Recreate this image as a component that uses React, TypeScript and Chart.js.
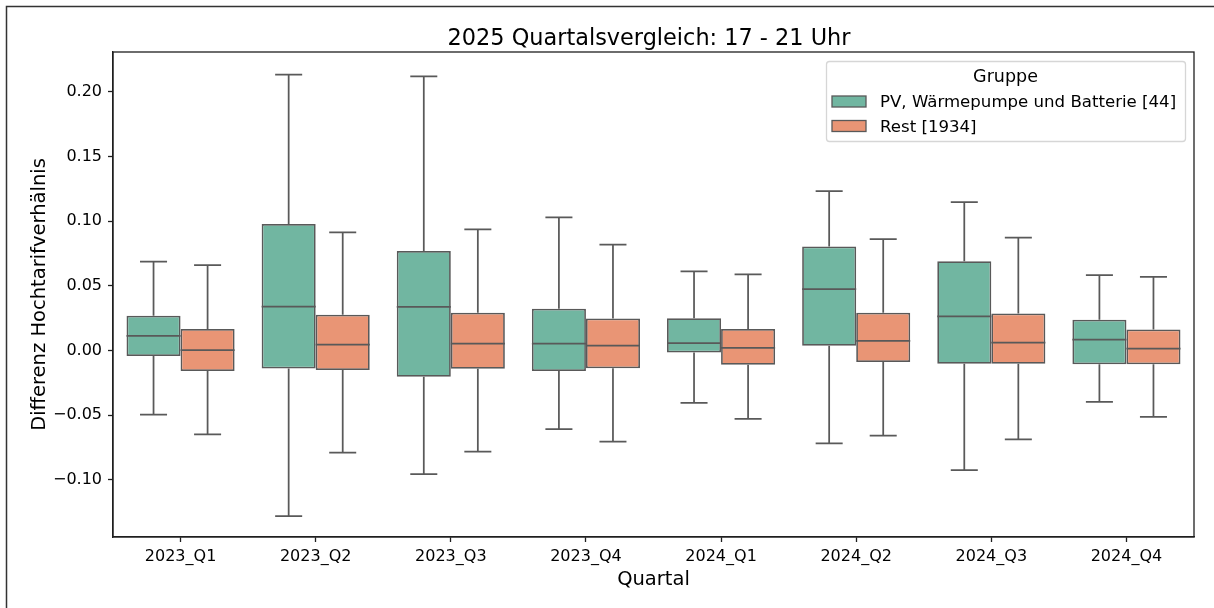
import React, { useEffect, useRef } from "react";
import { Chart, registerables } from "chart.js";

Chart.register(...registerables);

// ---- data ----
const quarters = ["2023_Q1", "2023_Q2", "2023_Q3", "2023_Q4", "2024_Q1", "2024_Q2", "2024_Q3", "2024_Q4"];
const groupLabels = ["PV, Wärmepumpe und Batterie [44]", "Rest [1934]"];

const pvLow = [-0.0497, -0.1281, -0.0956, -0.0608, -0.0406, -0.0719, -0.0925, -0.0399];
const pvQ1 = [-0.0043, -0.0141, -0.0203, -0.0159, -0.0017, 0.0035, -0.0104, -0.0107];
const pvMedian = [0.0112, 0.0339, 0.0337, 0.0053, 0.0056, 0.0473, 0.0262, 0.0084];
const pvQ3 = [0.0267, 0.0977, 0.0768, 0.0321, 0.0249, 0.0803, 0.069, 0.0236];
const pvHigh = [0.0687, 0.2132, 0.2119, 0.1028, 0.061, 0.1232, 0.1147, 0.0582];

const restLow = [-0.0649, -0.0791, -0.0783, -0.0706, -0.053, -0.0659, -0.0688, -0.0515];
const restQ1 = [-0.0159, -0.0151, -0.0143, -0.0138, -0.0112, -0.0089, -0.0104, -0.0107];
const restMedian = [0.0001, 0.0045, 0.0053, 0.0037, 0.0019, 0.0073, 0.006, 0.0014];
const restQ3 = [0.0166, 0.0275, 0.029, 0.0246, 0.0166, 0.029, 0.0285, 0.0161];
const restHigh = [0.0659, 0.0912, 0.0935, 0.0817, 0.0587, 0.0861, 0.0871, 0.0569];

const yTicks = [-0.1, -0.05, 0, 0.05, 0.1, 0.15, 0.2];

const titleText = "2025 Quartalsvergleich: 17 - 21 Uhr";
const xTitle = "Quartal";
const yTitle = "Differenz Hochtarifverhälnis";
const legendTitle = "Gruppe";

// ---- styles ----
const FONT = "'DejaVu Sans', 'Noto Sans', sans-serif";
const colors = ["#71b6a1", "#e99575"];
const lineColor = "#595959";
const axisColor = "#1f1f1f";

const groups = [
  { low: pvLow, q1: pvQ1, med: pvMedian, q3: pvQ3, high: pvHigh },
  { low: restLow, q1: restQ1, med: restMedian, q3: restQ3, high: restHigh },
];

const fmt = (v: number) => {
  const s = Math.abs(v).toFixed(2);
  return v < -1e-9 ? "\u2212" + s : s;
};

const boxPlugin = {
  id: "boxWhiskers",
  afterDatasetsDraw(chart: any) {
    const ctx = chart.ctx;
    const ys = chart.scales.y;
    ctx.save();
    ctx.strokeStyle = lineColor;
    ctx.lineWidth = 1.75;
    groups.forEach((g, di) => {
      const meta = chart.getDatasetMeta(di);
      meta.data.forEach((el: any, j: number) => {
        const x = el.x;
        const w = el.width;
        const yLow = ys.getPixelForValue(g.low[j]);
        const yQ1 = ys.getPixelForValue(g.q1[j]);
        const yQ3 = ys.getPixelForValue(g.q3[j]);
        const yHigh = ys.getPixelForValue(g.high[j]);
        const yMed = ys.getPixelForValue(g.med[j]);
        ctx.beginPath();
        ctx.moveTo(x, yQ3);
        ctx.lineTo(x, yHigh);
        ctx.moveTo(x, yQ1);
        ctx.lineTo(x, yLow);
        ctx.moveTo(x - w / 4, yHigh);
        ctx.lineTo(x + w / 4, yHigh);
        ctx.moveTo(x - w / 4, yLow);
        ctx.lineTo(x + w / 4, yLow);
        ctx.moveTo(x - w / 2, yMed);
        ctx.lineTo(x + w / 2, yMed);
        ctx.stroke();
      });
    });
    ctx.restore();
  },
};

const decorPlugin = {
  id: "decor",
  beforeDraw(chart: any) {
    const ctx = chart.ctx;
    ctx.save();
    ctx.fillStyle = "#ffffff";
    ctx.fillRect(0, 0, chart.width, chart.height);
    ctx.strokeStyle = "#333333";
    ctx.lineWidth = 1.5;
    ctx.strokeRect(6.5, 6.5, chart.width + 50, chart.height + 50);
    ctx.restore();
  },
  afterDraw(chart: any) {
    const ctx = chart.ctx;
    const a = chart.chartArea;
    ctx.save();
    // plot frame
    ctx.strokeStyle = axisColor;
    ctx.lineWidth = 1.3;
    ctx.strokeRect(a.left, a.top, a.right - a.left, a.bottom - a.top);

    // title
    ctx.fillStyle = "#000";
    ctx.textAlign = "center";
    ctx.textBaseline = "alphabetic";
    ctx.font = `22.4px ${FONT}`;
    ctx.fillText(titleText, (a.left + a.right) / 2 - 4.5, 45);

    // x title
    ctx.font = `19.5px ${FONT}`;
    ctx.fillText(xTitle, (a.left + a.right) / 2, 585);

    // y title
    ctx.save();
    ctx.translate(45, (a.top + a.bottom) / 2);
    ctx.rotate(-Math.PI / 2);
    ctx.fillText(yTitle, 0, 0);
    ctx.restore();

    // legend
    const lx = 826, ly = 61, lw = 359, lh = 80;
    ctx.fillStyle = "rgba(255,255,255,0.8)";
    ctx.strokeStyle = "#d6d6d6";
    ctx.lineWidth = 1.3;
    ctx.beginPath();
    (ctx as any).roundRect(lx + 0.5, ly + 0.5, lw, lh, 3);
    ctx.fill();
    ctx.stroke();

    ctx.fillStyle = "#000";
    ctx.textAlign = "center";
    ctx.font = `17.5px ${FONT}`;
    ctx.fillText(legendTitle, lx + lw / 2, 82);

    ctx.textAlign = "left";
    ctx.font = `16.6px ${FONT}`;
    const rowBase = [107, 131.5];
    groupLabels.forEach((lab, i) => {
      const b = rowBase[i];
      ctx.fillStyle = colors[i];
      ctx.fillRect(832, b - 11, 34, 11);
      ctx.strokeStyle = lineColor;
      ctx.lineWidth = 1.3;
      ctx.strokeRect(832, b - 11, 34, 11);
      ctx.fillStyle = "#000";
      ctx.fillText(lab, 880, b);
    });
    ctx.restore();
  },
};

export default function App() {
  const ref = useRef<HTMLCanvasElement | null>(null);

  useEffect(() => {
    if (!ref.current) return;
    Chart.defaults.font.family = FONT;
    const chart = new Chart(ref.current, {
      type: "bar",
      data: {
        labels: quarters,
        datasets: groups.map((g, i) => ({
          label: groupLabels[i],
          data: g.q1.map((v, j) => [v, g.q3[j]]) as any,
          backgroundColor: colors[i],
          borderColor: lineColor,
          borderWidth: 1.75,
          borderSkipped: false,
          categoryPercentage: 0.8,
          barPercentage: 1.0,
        })),
      },
      options: {
        responsive: false,
        animation: false,
        devicePixelRatio: 1,
        layout: { padding: { top: 52, right: 20, left: 0, bottom: 0 } },
        plugins: {
          legend: { display: false },
          tooltip: { enabled: false },
          title: { display: false },
        },
        scales: {
          x: {
            afterFit: (s: any) => {
              s.height = 71;
            },
            ticks: {
              color: "#000",
              font: { size: 16, family: FONT },
              padding: 5,
              maxRotation: 0,
            },
            grid: {
              offset: false,
              drawOnChartArea: false,
              drawTicks: true,
              tickLength: 5,
              tickColor: axisColor,
              tickWidth: 1.3,
            },
            border: { display: true, color: axisColor, width: 1.3 },
          },
          y: {
            min: -0.1443,
            max: 0.2307,
            afterFit: (s: any) => {
              s.width = 113;
            },
            afterBuildTicks: (s: any) => {
              s.ticks = yTicks.map((v) => ({ value: v }));
            },
            ticks: {
              color: "#000",
              font: { size: 16, family: FONT },
              padding: 6,
              callback: (v: any) => fmt(Number(v)),
            },
            grid: {
              drawOnChartArea: false,
              drawTicks: true,
              tickLength: 5,
              tickColor: axisColor,
              tickWidth: 1.3,
            },
            border: { display: true, color: axisColor, width: 1.3 },
          },
        },
      },
      plugins: [decorPlugin, boxPlugin],
    });
    return () => chart.destroy();
  }, []);

  return (
    <div style={{ position: "fixed", left: 0, top: 0, width: 1214, height: 608, background: "#fff" }}>
      <canvas ref={ref} width={1214} height={608} style={{ width: 1214, height: 608, display: "block" }} />
    </div>
  );
}
